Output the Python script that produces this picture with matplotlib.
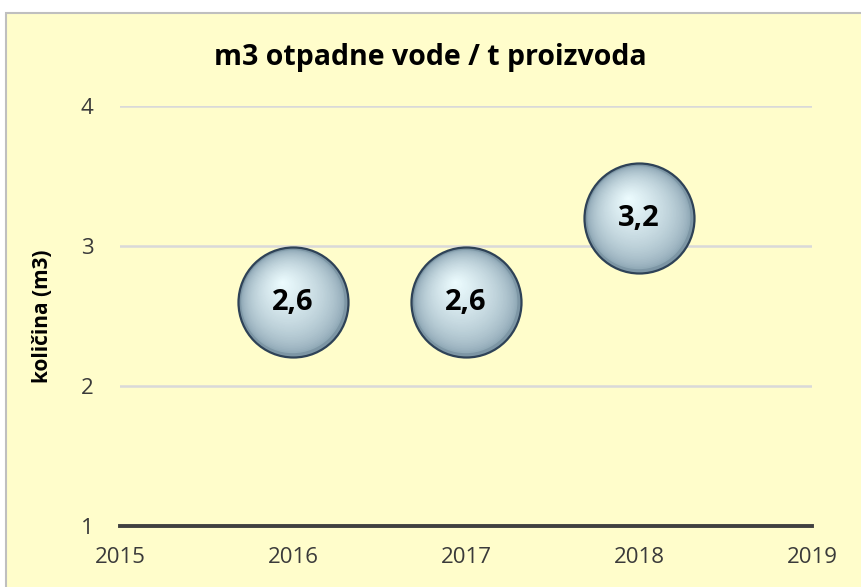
import matplotlib
matplotlib.use("Agg")
import matplotlib.pyplot as plt
from matplotlib.patches import Rectangle
from matplotlib.transforms import offset_copy
import numpy as np

years = [2016, 2017, 2018]
values = [2.6, 2.6, 3.2]
labels = ["2,6", "2,6", "3,2"]
x_ticks = [2015, 2016, 2017, 2018, 2019]
y_ticks = [1, 2, 3, 4]
title = "m3 otpadne vode / t proizvoda"
ylabel = "količina (m3)"

plt.rcParams["font.family"] = ["Open Sans", "DejaVu Sans"]

W, H, DPI = 861, 587, 100
fig = plt.figure(figsize=(W / DPI, H / DPI), dpi=DPI)
fig.patch.set_facecolor("white")

# chart frame
frame = Rectangle((6 / W, -0.05), 1.2, 1 - 13 / H + 0.05, transform=fig.transFigure,
                  facecolor="#FFFDCB", edgecolor="#BFBFBF", lw=1.5, zorder=-10)
fig.patches.append(frame)

ax = fig.add_axes([120 / W, 1 - 526 / H, (812 - 120) / W, (526 - 106) / H])
ax.set_zorder(1)
ax.set_facecolor("none")
ax.set_xlim(2015, 2019)
ax.set_ylim(1, 4)
ax.set_xticks(x_ticks)
ax.set_yticks(y_ticks)
for s in ax.spines.values():
    s.set_visible(False)
ax.tick_params(length=0, labelsize=16, labelcolor="#3A3A3A")
ax.tick_params(axis="y", pad=19)
ax.tick_params(axis="x", pad=15)
for yv in y_ticks[1:]:
    ax.axhline(yv, color="#D9D9D9", lw=1.8, zorder=1)
ax.axhline(1, color="#404040", lw=2.8, zorder=2, clip_on=False)

ax.set_ylabel(ylabel, fontsize=15, fontweight="bold", labelpad=20)
fig.text(0.5, 1 - 57 / H, title, ha="center", va="center", fontsize=20.5, fontweight="bold",
         zorder=5)

# bubbles with radial shading
diam_pt = 110 * 72 / DPI
base_s = diam_pt ** 2
ax.scatter(years, values, s=base_s, color="#7D96A5", edgecolors="#2E4257", linewidths=1.6, zorder=3)
n = 45
c_out = np.array([0.52, 0.62, 0.68])
c_in = np.array([0.93, 0.99, 1.0])
for i in range(1, n):
    f = 1 - i / n  # relative diameter
    t = (i / n) ** 0.55
    col = c_out * (1 - t) + c_in * t
    shift = (1 - f) * diam_pt * 0.18
    tr = offset_copy(ax.transData, fig=fig, x=-shift * 0.55, y=shift, units="points")
    ax.scatter(years, values, s=(diam_pt * f * 0.96) ** 2, color=col, edgecolors="none",
               transform=tr, zorder=3 + i * 0.001)

for xv, yv, lab in zip(years, values, labels):
    ax.text(xv, yv, lab, ha="center", va="center", fontsize=21, fontweight="bold",
            color="black", zorder=5)

fig.savefig("out.png", dpi=DPI)
